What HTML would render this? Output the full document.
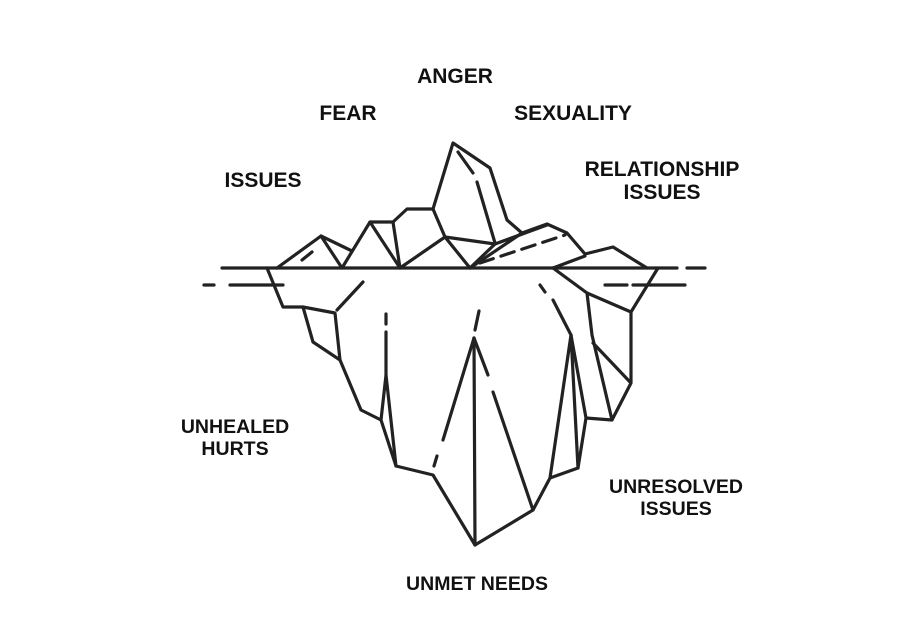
<!DOCTYPE html>
<html><head><meta charset="utf-8"><style>
html,body{margin:0;padding:0;background:#fff;}
svg{display:block;}
text{font-family:"Liberation Sans",sans-serif;font-weight:bold;fill:#111;text-anchor:middle;}
</style></head><body>
<svg width="911" height="630" viewBox="0 0 911 630" xmlns="http://www.w3.org/2000/svg">
<g font-size="21">
<text x="455" y="83">ANGER</text>
<text x="348" y="120">FEAR</text>
<text x="573" y="120">SEXUALITY</text>
<text x="263" y="187">ISSUES</text>
<text x="662" y="176">RELATIONSHIP</text>
<text x="662" y="199">ISSUES</text>
</g>
<g font-size="19.5">
<text x="235" y="433">UNHEALED</text>
<text x="235" y="455">HURTS</text>
<text x="676" y="493">UNRESOLVED</text>
<text x="676" y="515">ISSUES</text>
<text x="477" y="590">UNMET NEEDS</text>
</g>
<g fill="none" stroke="#222" stroke-width="3.2" stroke-linejoin="round" stroke-linecap="round">
<line x1="222" y1="268" x2="677" y2="268"/>
<line x1="687" y1="268" x2="705" y2="268"/>
<line x1="204" y1="285" x2="214" y2="285"/>
<line x1="230" y1="285" x2="283" y2="285"/>
<line x1="605" y1="285" x2="627" y2="285"/>
<line x1="633" y1="285" x2="685" y2="285"/>
<polyline points="277,268 321,236 342,268 370,222 393,222 407,209 433,209 453,143 490,168 507,220 522,233 547,224 567,233 585,254 613,247 647,268"/>
<polyline points="321,236 352,251"/>
<line x1="302" y1="260" x2="312" y2="252"/>
<polyline points="370,222 400,268 393,222"/>
<polyline points="400,268 445,237 433,209"/>
<polyline points="445,237 470,268 495,244 445,237"/>
<line x1="495" y1="244" x2="547" y2="225"/>
<line x1="458" y1="152" x2="473" y2="173"/>
<line x1="477" y1="182" x2="495" y2="243"/>
<line x1="470" y1="268" x2="522" y2="233"/>
<g stroke-dasharray="14 8"><line x1="480" y1="263" x2="565" y2="235"/></g>
<line x1="553" y1="268" x2="585" y2="256"/>
<polyline points="267,268 283,307 303,307 335,313 340,360 361,410 381,420 396,466 433,475 475,545 533,510 550,478 578,468 586,418 612,420 631,383 631,312 658,268"/>
<polyline points="303,307 313,342 340,360"/>
<line x1="337" y1="310" x2="363" y2="282"/>
<line x1="386" y1="314" x2="386" y2="324"/>
<line x1="386" y1="332" x2="386" y2="375"/>
<polyline points="381,420 386,375 396,466"/>
<line x1="474" y1="338" x2="475" y2="545"/>
<line x1="474" y1="338" x2="443" y2="440"/>
<line x1="437" y1="456" x2="434" y2="466"/>
<line x1="479" y1="311" x2="475" y2="330"/>
<line x1="474" y1="338" x2="488" y2="375"/>
<line x1="493" y1="392" x2="533" y2="510"/>
<polyline points="553,268 587,293 631,312"/>
<polyline points="587,293 592,335 612,420"/>
<line x1="593" y1="343" x2="630" y2="382"/>
<line x1="540" y1="285" x2="545" y2="292"/>
<line x1="553" y1="300" x2="571" y2="335"/>
<polyline points="550,478 571,335 578,468"/>
<line x1="571" y1="335" x2="586" y2="418"/>
</g>
</svg>
</body></html>
